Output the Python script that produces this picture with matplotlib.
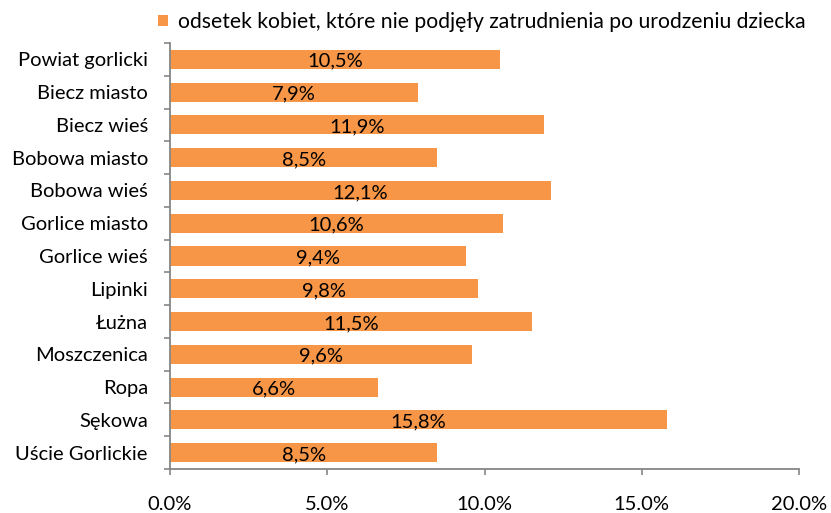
import matplotlib.pyplot as plt
import numpy as np

categories = ["Powiat gorlicki", "Biecz miasto", "Biecz wieś", "Bobowa miasto",
              "Bobowa wieś", "Gorlice miasto", "Gorlice wieś", "Lipinki", "Łużna",
              "Moszczenica", "Ropa", "Sękowa", "Uście Gorlickie"]
values = [10.5, 7.9, 11.9, 8.5, 12.1, 10.6, 9.4, 9.8, 11.5, 9.6, 6.6, 15.8, 8.5]
series_name = "odsetek kobiet, które nie podjęły zatrudnienia po urodzeniu dziecka"
xticks = [0, 5, 10, 15, 20]

plt.rcParams["font.family"] = ["Lato", "DejaVu Sans"]
fs = 14.5

fig = plt.figure(figsize=(8.31, 5.13), dpi=100)
# axes box: x 170..799, y 43..469 (pixels)
ax = fig.add_axes([170 / 831, (513 - 469) / 513, 629 / 831, 426 / 513])

y = np.arange(len(categories))
ax.barh(y, values, height=0.58, color="#F79646", label=series_name)
for yi, v in zip(y, values):
    ax.text(v / 2, yi + 0.06, f"{v:.1f}%".replace(".", ","), ha="center", va="center",
            fontsize=fs, color="black")

ax.set_ylim(len(categories) - 0.5, -0.5)
ax.set_xlim(0, 20)
ax.set_yticks(y)
ax.set_yticklabels(categories, fontsize=fs)
ax.set_yticks(np.arange(len(categories) + 1) - 0.5, minor=True)
ax.tick_params(axis="y", which="major", length=0, pad=16)
ax.tick_params(axis="y", which="minor", length=4.3, width=1.2, color="#868686")
ax.set_xticks(xticks)
ax.set_xticklabels([f"{t:.1f}%" for t in xticks], fontsize=fs)
ax.tick_params(axis="x", length=4.3, width=1.2, color="#868686", pad=15)

for s in ["top", "right"]:
    ax.spines[s].set_visible(False)
for s in ["left", "bottom"]:
    ax.spines[s].set_color("#868686")
    ax.spines[s].set_linewidth(1.3)

ax.legend(loc="center left", bbox_to_anchor=(-12 / 629, 1 + 21 / 426), frameon=False,
          fontsize=15.2, handlelength=0.48, handleheight=0.48, handletextpad=0.45,
          borderpad=0, borderaxespad=0)

fig.savefig("out.png", dpi=100)
